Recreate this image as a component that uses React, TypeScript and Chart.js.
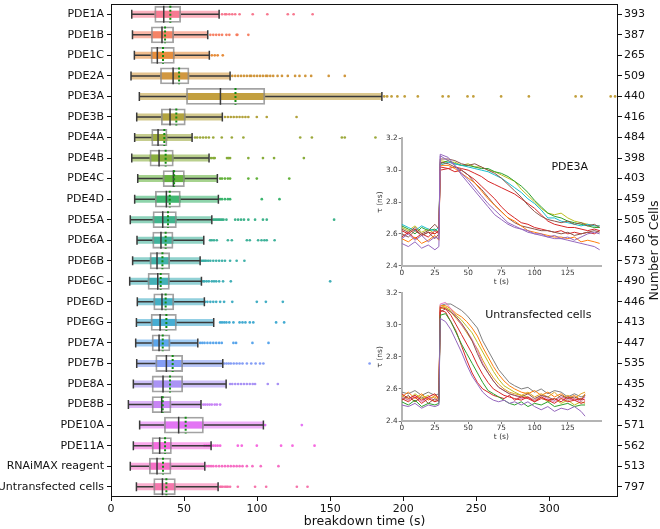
import React, { useEffect, useRef } from 'react';
import { Chart, registerables } from 'chart.js';
Chart.register(...registerables);
Chart.defaults.font.family = '"DejaVu Sans", sans-serif';

// ---------------- main chart data ----------------
const CATEGORIES = ['PDE1A','PDE1B','PDE1C','PDE2A','PDE3A','PDE3B','PDE4A','PDE4B','PDE4C','PDE4D','PDE5A','PDE6A','PDE6B','PDE6C','PDE6D','PDE6G','PDE7A','PDE7B','PDE8A','PDE8B','PDE10A','PDE11A','RNAiMAX reagent','Untransfected cells'];
const CELL_COUNTS = [393,387,265,509,440,416,484,398,403,459,505,460,573,490,446,413,447,535,435,432,571,562,513,797];
const WHISKER_LOW = [14.2,14.7,16.0,13.7,19.4,17.6,16.2,14.2,18.3,16.2,13.2,17.8,14.8,12.8,18.0,17.4,16.9,17.6,15.3,11.9,19.6,15.3,13.2,17.4];
const Q1 = [29.7,27.4,27.2,33.6,51.4,34.2,27.6,26.4,35.4,30.1,28.5,28.3,26.5,25.1,29.0,27.2,27.9,30.4,27.9,27.9,36.3,27.9,26.0,29.0];
const MEDIAN = [36.1,34.9,31.7,42.5,74.9,40.4,32.2,32.9,42.7,37.9,35.4,34.2,31.5,32.0,34.9,33.6,32.9,37.9,35.6,34.7,46.3,33.3,31.5,35.2];
const MEAN = [40.6,37.0,35.6,46.6,85.2,44.7,36.5,37.4,43.2,40.2,39.0,37.4,35.2,34.0,37.4,37.9,35.4,42.2,40.4,35.4,51.1,37.0,35.6,37.9];
const Q3 = [47.9,43.1,43.6,53.6,105.5,51.1,38.6,42.9,50.5,47.7,45.0,42.7,40.4,40.2,43.2,45.0,40.6,49.3,49.3,41.3,63.5,41.6,41.3,44.3];
const WHISKER_HIGH = [74.0,66.2,67.3,81.5,185.4,76.2,55.5,67.1,72.8,73.5,69.0,63.5,61.0,61.9,63.9,70.3,59.4,76.5,78.8,61.6,104.3,68.5,64.2,73.3];
const OUTLIERS: number[][] = [
  [76, 78, 79, 81, 83, 85, 88, 97, 107, 121, 125, 138],
  [68, 70, 72, 74, 76, 79, 81, 86, 86.5, 94],
  [69, 71, 73, 76.5],
  [83, 85, 87, 89, 91, 93, 95, 96, 98, 100, 102, 104, 106, 107, 109, 111, 114, 117, 121, 126, 129, 133, 137, 149, 160],
  [187, 189, 192, 196, 201, 210, 227, 231, 244, 248, 267, 286, 318, 322, 342, 345],
  [78, 80, 82, 84, 86, 88, 90, 92, 94, 99.8, 106.6, 127],
  [57.5, 59, 61, 63, 65, 67, 70, 75.8, 82.7, 90.6, 129.5, 137.5, 158, 160, 181],
  [68.5, 70, 71, 79.4, 80.5, 81.5, 94, 104, 111.6, 132],
  [74.7, 76, 78, 80, 81.5, 94, 99.8, 122],
  [74.7, 76, 78, 80, 81.5, 103.2, 115.3],
  [70, 71, 72, 73, 74, 75, 76, 77, 79, 85, 87, 89, 91, 94, 98.6, 104, 106.6, 152.7],
  [67.8, 69, 70.5, 72.4, 80, 82.7, 93, 95, 100.7, 103, 105, 106.6, 112],
  [62, 63, 64, 65, 66.5, 68, 70, 72, 74, 76, 78, 81.5, 86, 91.3],
  [63, 64, 65.5, 67, 69, 70.5, 72, 74, 76.7, 82, 150],
  [64.4, 66, 68, 70, 72, 74.7, 77.4, 83, 99.8, 106, 117.6],
  [74.7, 76, 77.5, 79, 81, 83.8, 88, 90, 92, 95, 97.4, 113, 118.5],
  [61, 62.5, 64, 66, 68, 70, 72, 74, 75.8, 83.8, 85.6, 96.8, 107.8],
  [77.4, 79, 80.5, 82, 84, 86, 88, 90, 93, 96, 99, 102, 104.3, 177],
  [81.5, 83, 85, 87, 89, 91, 93, 95, 97, 98.6, 107.3, 114.2],
  [63.2, 64.5, 66, 67.5, 69, 71, 72.5, 74.7],
  [105.5, 130.6],
  [64, 65.5, 67, 68.5, 70, 71.5, 73, 74.7, 86.8, 89.5, 99.8, 116.4, 124.2, 139.3],
  [65.5, 67, 68.5, 70, 72, 74, 76, 78, 80, 82, 84, 86, 88, 90, 93, 96.8, 102.5, 114.6],
  [74.7, 75.5, 76.5, 78, 79, 80, 81.5, 86.8, 98.6, 106.2, 127.2, 134.5],
];
const COLORS = ['#f77189','#f57a5c','#e5862f','#ce9032','#bf9a31','#ae9d31','#97a431','#82a931','#5cae31','#32b166','#34af85','#35ae95','#36ada4','#37abb3','#38aac1','#39a7d0','#50a0ea','#7d98f4','#a48cf4','#c47df4','#e26cf3','#f561dd','#f666c2','#f66da7'];
const X_TICKS = [0, 50, 100, 150, 200, 250, 300];
const X_MAX = 347;
const X_TITLE = 'breakdown time (s)';
const RIGHT_TITLE = 'Number of Cells';

// ---------------- inset data ----------------
const INSET_X_TICKS = [0, 25, 50, 75, 100, 125];
const INSET_Y_TICKS = [2.4, 2.6, 2.8, 3.0, 3.2];

const T_PDE3A = [0, 5, 10, 15, 20, 25, 28, 29, 35, 40, 45, 50, 55, 60, 65, 70, 75, 80, 85, 90, 95, 100, 105, 110, 115, 120, 125, 130, 135, 140, 145, 149];
const PDE3A_OLIVE = [2.64,2.62,2.65,2.61,2.63,2.60,2.62,3.06,3.05,3.05,3.03,3.04,3.02,3.02,3.00,2.99,2.97,2.95,2.93,2.88,2.84,2.80,2.76,2.73,2.72,2.73,2.70,2.68,2.67,2.66,2.65,2.65];
const PDE3A_GREEN = [2.65,2.63,2.60,2.64,2.62,2.63,2.61,3.04,3.06,3.04,3.03,3.03,3.02,3.01,3.01,2.99,2.98,2.96,2.93,2.90,2.86,2.81,2.77,2.73,2.71,2.70,2.68,2.67,2.66,2.65,2.64,2.64];
const PDE3A_CYAN = [2.66,2.64,2.62,2.65,2.63,2.62,2.64,3.03,3.05,3.04,3.03,3.02,3.01,3.00,2.99,2.97,2.95,2.92,2.89,2.86,2.82,2.79,2.75,2.70,2.70,2.68,2.67,2.66,2.65,2.66,2.65,2.65];
const PDE3A_RED1 = [2.62,2.60,2.63,2.59,2.61,2.60,2.62,3.00,3.01,3.02,3.01,3.00,2.98,2.96,2.93,2.91,2.89,2.87,2.85,2.82,2.79,2.76,2.72,2.68,2.66,2.65,2.64,2.64,2.63,2.62,2.63,2.62];
const PDE3A_RED2 = [2.58,2.61,2.57,2.60,2.58,2.62,2.60,3.02,3.01,2.99,3.00,2.97,2.94,2.90,2.86,2.82,2.77,2.73,2.70,2.67,2.66,2.64,2.63,2.62,2.61,2.62,2.60,2.61,2.60,2.61,2.60,2.62];
const PDE3A_BROWN1 = [2.63,2.61,2.64,2.60,2.62,2.66,2.63,3.07,3.07,3.06,3.04,3.03,3.04,3.02,3.00,2.98,2.95,2.91,2.87,2.83,2.78,2.74,2.71,2.69,2.68,2.67,2.68,2.66,2.67,2.65,2.66,2.64];
const PDE3A_BROWN2 = [2.60,2.58,2.62,2.59,2.61,2.57,2.60,3.05,3.04,3.02,3.00,2.97,2.92,2.88,2.83,2.78,2.74,2.70,2.67,2.65,2.64,2.63,2.62,2.62,2.61,2.60,2.61,2.59,2.60,2.61,2.62,2.61];
const PDE3A_ORANGE = [2.57,2.55,2.58,2.54,2.56,2.59,2.56,3.03,3.03,3.01,2.98,2.95,2.92,2.87,2.82,2.78,2.74,2.70,2.68,2.65,2.62,2.61,2.60,2.59,2.58,2.58,2.57,2.58,2.55,2.56,2.55,2.54];
const PDE3A_PURPLE1 = [2.54,2.52,2.55,2.51,2.53,2.50,2.52,3.10,3.08,3.03,2.98,2.94,2.89,2.84,2.79,2.75,2.71,2.67,2.65,2.63,2.61,2.60,2.59,2.58,2.57,2.57,2.56,2.55,2.54,2.53,2.52,2.50];
const PDE3A_PURPLE2 = [2.57,2.60,2.56,2.59,2.55,2.58,2.57,3.09,3.06,3.03,2.97,2.92,2.87,2.82,2.77,2.72,2.69,2.66,2.64,2.63,2.62,2.60,2.60,2.58,2.59,2.57,2.58,2.56,2.58,2.60,2.61,2.60];

const T_UNTR = [0, 5, 10, 15, 20, 25, 28, 29, 33, 37, 41, 45, 49, 53, 57, 61, 65, 69, 73, 77, 81, 85, 90, 95, 100, 105, 110, 115, 120, 125, 130, 135, 138];
const UNTR_GRAY = [2.58,2.57,2.59,2.56,2.58,2.56,2.57,3.12,3.13,3.13,3.11,3.09,3.06,3.02,2.98,2.90,2.84,2.78,2.72,2.68,2.64,2.62,2.60,2.61,2.58,2.60,2.57,2.59,2.58,2.55,2.57,2.55,2.56];
const UNTR_ORANGE = [2.55,2.58,2.54,2.57,2.53,2.56,2.54,3.12,3.12,3.10,3.07,3.05,3.02,2.98,2.93,2.86,2.80,2.74,2.69,2.65,2.62,2.60,2.58,2.57,2.59,2.56,2.58,2.55,2.57,2.54,2.56,2.53,2.57];
const UNTR_OLIVE = [2.56,2.53,2.57,2.54,2.56,2.52,2.55,3.10,3.11,3.09,3.06,3.03,2.99,2.95,2.89,2.83,2.77,2.71,2.66,2.62,2.60,2.58,2.56,2.55,2.53,2.55,2.52,2.54,2.51,2.53,2.50,2.52,2.51];
const UNTR_PINK = [2.55,2.53,2.56,2.52,2.55,2.53,2.54,3.13,3.14,3.10,3.05,3.00,2.96,2.91,2.84,2.76,2.70,2.65,2.61,2.59,2.57,2.56,2.54,2.55,2.53,2.56,2.54,2.52,2.55,2.53,2.54,2.52,2.55];
const UNTR_RED1 = [2.54,2.52,2.55,2.51,2.54,2.52,2.53,3.11,3.10,3.06,3.00,2.94,2.88,2.82,2.75,2.69,2.64,2.60,2.58,2.56,2.55,2.54,2.53,2.55,2.52,2.54,2.53,2.51,2.54,2.52,2.53,2.51,2.52];
const UNTR_GREEN = [2.52,2.50,2.53,2.49,2.51,2.50,2.51,3.06,3.07,3.02,2.95,2.88,2.82,2.76,2.70,2.64,2.59,2.57,2.55,2.53,2.51,2.50,2.52,2.49,2.51,2.50,2.52,2.49,2.50,2.51,2.49,2.50,2.50];
const UNTR_RED2 = [2.57,2.54,2.56,2.53,2.55,2.57,2.54,3.09,3.08,3.02,2.96,2.87,2.78,2.70,2.64,2.60,2.58,2.56,2.55,2.54,2.56,2.53,2.55,2.54,2.52,2.55,2.53,2.54,2.52,2.55,2.53,2.54,2.53];
const UNTR_PURPLE = [2.50,2.49,2.51,2.48,2.50,2.49,2.50,3.04,3.02,2.97,2.90,2.83,2.75,2.68,2.63,2.58,2.55,2.53,2.52,2.53,2.51,2.52,2.50,2.52,2.49,2.47,2.49,2.46,2.48,2.47,2.49,2.46,2.43];
const UNTR_BROWN = [2.53,2.56,2.52,2.55,2.51,2.54,2.52,3.08,3.10,3.08,3.05,3.01,2.96,2.90,2.82,2.75,2.70,2.65,2.61,2.59,2.57,2.56,2.55,2.57,2.54,2.56,2.55,2.53,2.56,2.54,2.55,2.53,2.56];
const UNTR_GOLD = [2.53,2.55,2.52,2.56,2.54,2.55,2.53,3.12,3.11,3.08,3.04,3.00,2.95,2.90,2.85,2.78,2.72,2.67,2.63,2.60,2.58,2.57,2.56,2.58,2.55,2.57,2.55,2.58,2.54,2.56,2.54,2.57,2.58];

const PDE3A_TRACES: [number[], string][] = [
  [PDE3A_PURPLE2, '#9467bd'], [PDE3A_PURPLE1, '#9467bd'], [PDE3A_ORANGE, '#ff7f0e'], [PDE3A_BROWN2, '#8c564b'],
  [PDE3A_RED2, '#d62728'], [PDE3A_BROWN1, '#8c564b'], [PDE3A_RED1, '#d62728'], [PDE3A_CYAN, '#17becf'],
  [PDE3A_GREEN, '#2ca02c'], [PDE3A_OLIVE, '#bcbd22'],
];
const UNTR_TRACES: [number[], string][] = [
  [UNTR_PURPLE, '#9467bd'], [UNTR_GREEN, '#2ca02c'], [UNTR_RED2, '#d62728'], [UNTR_RED1, '#d62728'],
  [UNTR_BROWN, '#8c564b'], [UNTR_PINK, '#e377c2'], [UNTR_GOLD, '#e0a526'], [UNTR_OLIVE, '#bcbd22'],
  [UNTR_ORANGE, '#ff7f0e'], [UNTR_GRAY, '#7f7f7f'],
];
const PDE3A_LABEL = 'PDE3A';
const PDE3A_LABEL_POS = [126.5, 3.02];
const UNTR_LABEL = 'Untransfected cells';
const UNTR_LABEL_POS = [102.8, 3.06];

// ---------------- helpers ----------------
const rgba = (hex: string, a: number) => {
  const n = parseInt(hex.slice(1), 16);
  return `rgba(${n >> 16},${(n >> 8) & 255},${n & 255},${a})`;
};
const gap = () => ({ x: NaN, y: NaN });
const BOX_HALF = 0.41;
const CAP_HALF = 0.22;
const DARK = '#3a3a3a';

function makeMain(canvas: HTMLCanvasElement) {
  const idx = CATEGORIES.map((_, i) => i);
  const frameAndTitle = {
    id: 'frameAndTitle',
    afterDraw(chart: any) {
      const { ctx, chartArea: a } = chart;
      ctx.save();
      ctx.strokeStyle = '#111';
      ctx.lineWidth = 1;
      ctx.strokeRect(Math.round(a.left) + 0.5, Math.round(a.top) + 0.5, Math.round(a.right - a.left) - 1, Math.round(a.bottom - a.top) - 1);
      const y2 = chart.scales.y2;
      ctx.translate(y2.right - 5, (a.top + a.bottom) / 2);
      ctx.rotate(-Math.PI / 2);
      ctx.textAlign = 'center';
      ctx.textBaseline = 'middle';
      ctx.fillStyle = '#111';
      ctx.font = '12.5px "DejaVu Sans"';
      ctx.fillText(RIGHT_TITLE, 0, 0);
      ctx.restore();
    },
  };
  const yCommon = (pos: 'left' | 'right', width: number, labels: (v: number) => string, pad: number) => ({
    type: 'linear', position: pos, min: -0.5, max: CATEGORIES.length - 0.5, reverse: true, offset: false,
    afterBuildTicks: (s: any) => { s.ticks = idx.map((i) => ({ value: i })); },
    afterFit: (s: any) => { s.width = width; s.paddingTop = 0; s.paddingBottom = 0; },
    ticks: { autoSkip: false, padding: pad, color: '#111', font: { size: 11 }, callback: (v: any) => labels(Number(v)) },
    grid: { offset: false, drawOnChartArea: false, tickLength: 4, tickColor: '#111', tickWidth: 1 },
    border: { display: false },
  });
  return new Chart(canvas, {
    type: 'bar',
    data: {
      datasets: [
        { type: 'bar', indexAxis: 'y', grouped: false, categoryPercentage: 1, barPercentage: 0.34,
          data: idx.map((i) => ({ x: [WHISKER_LOW[i], WHISKER_HIGH[i]], y: i })),
          backgroundColor: COLORS.map((c) => rgba(c, 0.55)), borderWidth: 0, order: 10 },
        { type: 'bar', indexAxis: 'y', grouped: false, categoryPercentage: 1, barPercentage: 0.34,
          data: idx.map((i) => ({ x: [Q1[i], Q3[i]], y: i })),
          backgroundColor: COLORS.map((c) => rgba(c, 0.85)), borderWidth: 0, order: 9 },
        { type: 'scatter', data: idx.flatMap((i) => OUTLIERS[i].map((v) => ({ x: v, y: i }))),
          pointBackgroundColor: idx.flatMap((i) => OUTLIERS[i].map(() => rgba(COLORS[i], 0.95))),
          pointBorderWidth: 0, pointRadius: 1.35, order: 8 },
        { type: 'bar', indexAxis: 'y', grouped: false, categoryPercentage: 1, barPercentage: BOX_HALF * 2,
          data: idx.map((i) => ({ x: [Q1[i], Q3[i]], y: i })),
          backgroundColor: 'rgba(0,0,0,0)', borderColor: 'rgba(140,140,140,0.8)', borderWidth: 1.8, borderSkipped: false, order: 5 },
        { type: 'line', data: idx.flatMap((i) => [{ x: WHISKER_LOW[i], y: i }, { x: Q1[i], y: i }, gap(), { x: Q3[i], y: i }, { x: WHISKER_HIGH[i], y: i }, gap()]),
          borderColor: DARK, borderWidth: 1.5, pointRadius: 0, order: 4 },
        { type: 'line', data: idx.flatMap((i) => [
            { x: WHISKER_LOW[i], y: i - CAP_HALF }, { x: WHISKER_LOW[i], y: i + CAP_HALF }, gap(),
            { x: WHISKER_HIGH[i], y: i - CAP_HALF }, { x: WHISKER_HIGH[i], y: i + CAP_HALF }, gap()]),
          borderColor: DARK, borderWidth: 1.5, pointRadius: 0, order: 3 },
        { type: 'line', data: idx.flatMap((i) => [{ x: MEDIAN[i], y: i - BOX_HALF }, { x: MEDIAN[i], y: i + BOX_HALF }, gap()]),
          borderColor: DARK, borderWidth: 1.5, pointRadius: 0, order: 2 },
        { type: 'line', data: idx.flatMap((i) => [{ x: MEAN[i], y: i - BOX_HALF }, { x: MEAN[i], y: i + BOX_HALF }, gap()]),
          borderColor: '#118c11', borderWidth: 2, borderDash: [2, 2], pointRadius: 0, order: 1 },
      ] as any,
    },
    options: {
      animation: false, responsive: false, events: [],
      plugins: { legend: { display: false }, tooltip: { enabled: false } },
      layout: { padding: { top: 2, left: 0, right: 0, bottom: 0 } },
      scales: {
        x: {
          type: 'linear', min: 0, max: X_MAX, offset: false,
          afterBuildTicks: (s: any) => { s.ticks = X_TICKS.map((v) => ({ value: v })); },
          afterFit: (s: any) => { s.height = 32; s.paddingLeft = 0; s.paddingRight = 0; },
          ticks: { padding: 2, color: '#111', font: { size: 11 }, maxRotation: 0, autoSkip: false },
          grid: { offset: false, drawOnChartArea: false, tickLength: 4, tickColor: '#111', tickWidth: 1 },
          border: { display: false },
          title: { display: true, text: X_TITLE, color: '#111', font: { size: 12.5 }, padding: 0 },
        },
        y: yCommon('left', 111, (v) => CATEGORIES[v] ?? '', 3),
        y2: yCommon('right', 42, (v) => String(CELL_COUNTS[v] ?? ''), 2),
      } as any,
    },
    plugins: [frameAndTitle],
  } as any);
}

function makeInset(canvas: HTMLCanvasElement, times: number[], traces: [number[], string][], label: string, labelPos: number[], topPad: number, axisH: number) {
  const textPlugin = {
    id: 'insetText',
    afterDraw(chart: any) {
      const { ctx, scales } = chart;
      ctx.save();
      ctx.font = '11px "DejaVu Sans"';
      ctx.fillStyle = '#111';
      ctx.textAlign = 'center';
      ctx.textBaseline = 'middle';
      ctx.fillText(label, scales.x.getPixelForValue(labelPos[0]), scales.y.getPixelForValue(labelPos[1]));
      ctx.restore();
    },
  };
  const axisCommon = {
    grid: { drawOnChartArea: false, tickLength: 3, tickColor: '#555', tickWidth: 0.8 },
    border: { color: '#b4b4b4', width: 2 },
  };
  return new Chart(canvas, {
    type: 'line',
    data: {
      datasets: traces.map(([vals, color]) => ({
        data: times.map((t, j) => ({ x: t, y: vals[j] })),
        borderColor: color, borderWidth: 1, pointRadius: 0, tension: 0, fill: false,
      })),
    },
    options: {
      animation: false, responsive: false, events: [],
      plugins: { legend: { display: false }, tooltip: { enabled: false } },
      layout: { padding: { top: topPad, right: 9, left: 0, bottom: 0 } },
      scales: {
        x: {
          type: 'linear', min: 0, max: 150,
          afterBuildTicks: (s: any) => { s.ticks = INSET_X_TICKS.map((v) => ({ value: v })); },
          afterFit: (s: any) => { s.height = axisH; s.paddingLeft = 0; s.paddingRight = 0; },
          ticks: { font: { size: 7.3 }, color: '#333', padding: 0, maxRotation: 0, autoSkip: false },
          title: { display: true, text: 't (s)', color: '#333', font: { size: 7.5 }, padding: { top: 0, bottom: 1 } },
          ...axisCommon,
        },
        y: {
          type: 'linear', min: 2.4, max: 3.2,
          afterBuildTicks: (s: any) => { s.ticks = INSET_Y_TICKS.map((v) => ({ value: v })); },
          afterFit: (s: any) => { s.width = 26.7; s.paddingTop = 0; s.paddingBottom = 0; },
          ticks: { font: { size: 7.3 }, color: '#333', padding: 1, autoSkip: false, callback: (v: any) => Number(v).toFixed(1) },
          title: { display: true, text: 'τ (ns)', color: '#333', font: { size: 7.5 }, padding: { top: 0.5, bottom: 0 } },
          ...axisCommon,
        },
      } as any,
    },
    plugins: [textPlugin],
  } as any);
}

export default function App() {
  const mainRef = useRef<HTMLCanvasElement>(null);
  const in1Ref = useRef<HTMLCanvasElement>(null);
  const in2Ref = useRef<HTMLCanvasElement>(null);
  useEffect(() => {
    const charts = [
      makeMain(mainRef.current!),
      makeInset(in1Ref.current!, T_PDE3A, PDE3A_TRACES, PDE3A_LABEL, PDE3A_LABEL_POS, 10.3, 22.3),
      makeInset(in2Ref.current!, T_UNTR, UNTR_TRACES, UNTR_LABEL, UNTR_LABEL_POS, 9.8, 22),
    ];
    return () => charts.forEach((c) => c.destroy());
  }, []);
  return (
    <div style={{ position: 'fixed', left: 0, top: 0, width: 660, height: 529, background: '#fff' }}>
      <canvas ref={mainRef} width={660} height={529} style={{ position: 'absolute', left: 0, top: 0 }} />
      <canvas ref={in1Ref} width={235} height={160} style={{ position: 'absolute', left: 375, top: 128 }} />
      <canvas ref={in2Ref} width={235} height={160} style={{ position: 'absolute', left: 375, top: 283 }} />
    </div>
  );
}
